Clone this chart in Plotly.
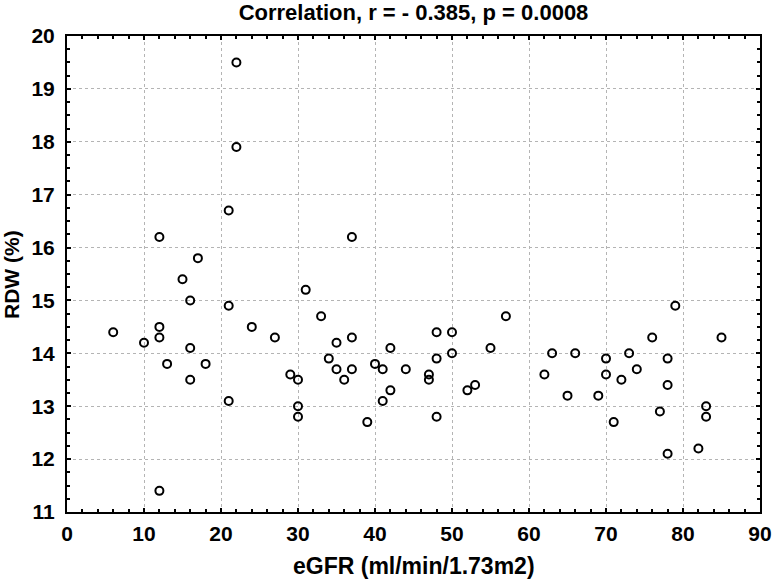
import plotly.graph_objects as go

egfr = [22, 22, 21, 12, 17, 15, 16, 21, 31, 6, 12, 10, 12, 16, 24, 27, 13, 18, 16, 29, 30, 21, 30, 30, 12,
        33, 35, 37, 34, 35, 37, 36, 40, 41, 42, 42, 41, 39, 44, 47, 47, 48, 48, 48, 50, 50, 52, 53, 55, 57, 37,
        62, 63, 66, 65, 69, 70, 70, 71, 72, 73, 74, 76, 77, 78, 78, 78, 79, 82, 83, 83, 85]
rdw = [19.5, 17.9, 16.7, 16.2, 15.8, 15.4, 15.0, 14.9, 15.2, 14.4, 14.5, 14.2, 14.3, 14.1, 14.5, 14.3, 13.8, 13.8, 13.5, 13.6, 13.5, 13.1, 13.0, 12.8, 11.4,
       14.7, 14.2, 14.3, 13.9, 13.7, 13.7, 13.5, 13.8, 13.7, 14.1, 13.3, 13.1, 12.7, 13.7, 13.6, 13.5, 14.4, 13.9, 12.8, 14.4, 14.0, 13.3, 13.4, 14.1, 14.7, 16.2,
       13.6, 14.0, 14.0, 13.2, 13.2, 13.9, 13.6, 12.7, 13.5, 14.0, 13.7, 14.3, 12.9, 13.9, 13.4, 12.1, 14.9, 12.2, 13.0, 12.8, 14.3]

title_text = "Correlation, r = - 0.385, p = 0.0008"
x_title = "eGFR (ml/min/1.73m2)"
y_title = "RDW (%)"

fig = go.Figure()
fig.add_trace(go.Scatter(
    x=egfr, y=rdw, mode="markers",
    marker=dict(symbol="circle-open", size=8, color="black", line=dict(width=2, color="black")),
    showlegend=False,
))

font_family = "Liberation Sans, Arial, sans-serif"
axis_common = dict(
    showline=True, linecolor="black", linewidth=2, mirror="allticks",
    ticks="inside", ticklen=4, tickwidth=1.5, tickcolor="black",
    showgrid=True, gridcolor="#b4b4b4", griddash="dot", gridwidth=1,
    zeroline=False, automargin=False,
    tickfont=dict(family=font_family, size=21, color="black", weight="bold"),
)

fig.update_layout(
    width=774, height=581,
    margin=dict(l=67, r=14, t=36, b=69),
    paper_bgcolor="white", plot_bgcolor="white",
    title=dict(text="<b>" + title_text + "</b>", x=0.5, xanchor="center", xref="paper",
               y=1 - 12 / 581, yanchor="middle",
               font=dict(family=font_family, size=22, color="black")),
    xaxis=dict(range=[0, 90], tick0=0, dtick=10, ticklabelstandoff=2,
               minor=dict(dtick=2, ticks="inside", ticklen=3, tickcolor="black", showgrid=False),
               **axis_common),
    yaxis=dict(range=[11, 20], tick0=11, dtick=1, ticklabelstandoff=6,
               minor=dict(dtick=0.25, ticks="inside", ticklen=3, tickcolor="black", showgrid=False),
               **axis_common),
    annotations=[
        dict(text="<b>" + x_title + "</b>", xref="paper", yref="paper", x=0.5, y=-54 / 476,
             xanchor="center", yanchor="middle", showarrow=False,
             font=dict(family=font_family, size=23, color="black")),
        dict(text="<b>" + y_title + "</b>", xref="paper", yref="paper", x=-56 / 693, y=0.5,
             xanchor="center", yanchor="middle", showarrow=False, textangle=-90,
             font=dict(family=font_family, size=21, color="black")),
    ],
)

fig.write_html("out.html", config={"displayModeBar": False},
               post_script="document.body.style.margin='0';document.body.style.overflow='hidden';")
